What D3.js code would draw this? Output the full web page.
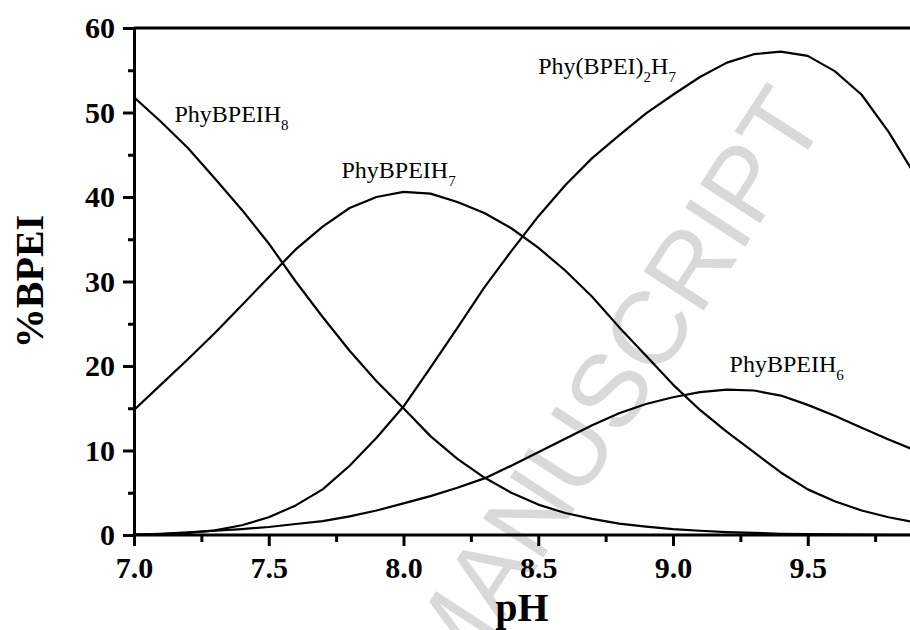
<!DOCTYPE html>
<html>
<head>
<meta charset="utf-8">
<script src="https://cdn.jsdelivr.net/npm/d3@7/dist/d3.min.js"></script>
<style>
	body{margin:0;background:#fff;}
	svg{display:block;}
	.axis path,.axis line{stroke:#000;stroke-width:3;}
	.axis text{font-family:"Liberation Serif","Times New Roman",serif;font-weight:bold;font-size:30px;fill:#000;}
	.curve{fill:none;stroke:#000;stroke-width:2.2;stroke-linejoin:round;}
	.species{font-family:"Liberation Serif","Times New Roman",serif;font-size:24px;fill:#000;}
	.title{font-family:"Liberation Serif","Times New Roman",serif;font-weight:bold;font-size:40px;fill:#000;}
</style>
</head>
<body>
<div id="chart"></div>
<script>
var pH=[7.0,7.1,7.2,7.3,7.4,7.5,7.6,7.7,7.8,7.9,8.0,8.1,8.2,8.3,8.4,8.5,8.6,8.7,8.8,8.9,9.0,9.1,9.2,9.3,9.4,9.5,9.6,9.7,9.8,9.9];
var phyBPEIH8=[51.8,48.9,45.8,42.2,38.5,34.5,30.0,25.8,21.8,18.2,15.0,11.7,9.0,6.8,5.0,3.6,2.6,1.9,1.35,1.0,0.7,0.5,0.35,0.25,0.15,0.1,0.07,0.05,0.03,0.02];
var phyBPEIH7=[14.8,17.8,20.8,23.9,27.2,30.5,33.8,36.5,38.7,40.0,40.6,40.4,39.4,38.1,36.3,34.0,31.3,28.2,24.6,21.2,17.8,14.8,12.2,9.8,7.4,5.4,4.0,2.9,2.1,1.5];
var phyBPEI2H7=[0.03,0.1,0.25,0.55,1.15,2.1,3.5,5.4,8.2,11.5,15.2,19.8,24.5,29.3,33.6,37.7,41.4,44.6,47.3,49.9,52.1,54.2,55.9,56.9,57.2,56.7,54.9,52.1,47.7,42.5];
var phyBPEIH6=[0.05,0.15,0.3,0.5,0.7,0.95,1.3,1.65,2.2,2.9,3.75,4.6,5.6,6.7,8.2,9.8,11.4,13.0,14.4,15.5,16.3,16.9,17.2,17.1,16.5,15.4,14.1,12.7,11.3,10.0];
var xTicks=[7.0,7.5,8.0,8.5,9.0,9.5];
var xMinor=[7.25,7.75,8.25,8.75,9.25,9.75];
var yTicks=[0,10,20,30,40,50,60];
var yMinor=[5,15,25,35,45,55];

var W=910, H=630;
var plotLeft=134, plotTop=28, plotBottom=535;

var svg=d3.select("#chart").append("svg").attr("width",W).attr("height",H);

var x=d3.scaleLinear().domain([7,10]).range([plotLeft,plotLeft+3*269.5]);
var y=d3.scaleLinear().domain([0,60]).range([plotBottom,plotTop]);

// watermark behind the curves
svg.append("text")
	.attr("transform","translate(828,119) rotate(-57)")
	.attr("text-anchor","end")
	.style("font-family","'Liberation Sans',Arial,sans-serif")
	.style("font-size","104px")
	.style("fill","#d9d9d9")
	.text("ACCEPTED MANUSCRIPT");

var series=[phyBPEIH8,phyBPEIH7,phyBPEI2H7,phyBPEIH6];
var line=d3.line()
	.x(function(d,i){return x(pH[i]);})
	.y(function(d){return y(d);});

svg.selectAll("path.curve").data(series).enter().append("path")
	.attr("class","curve")
	.attr("d",function(d){return line(d);});

// minor ticks
svg.append("g").attr("class","axis")
	.attr("transform","translate(0,"+plotBottom+")")
	.call(d3.axisBottom(x).tickValues(xMinor).tickSize(7).tickFormat("").tickSizeOuter(0))
	.select(".domain").remove();
svg.append("g").attr("class","axis")
	.attr("transform","translate("+plotLeft+",0)")
	.call(d3.axisLeft(y).tickValues(yMinor).tickSize(6).tickFormat("").tickSizeOuter(0))
	.select(".domain").remove();

var xAxis=svg.append("g").attr("class","axis")
	.attr("transform","translate(0,"+plotBottom+")")
	.call(d3.axisBottom(x).tickValues(xTicks).tickSize(11).tickPadding(11).tickSizeOuter(0).tickFormat(d3.format(".1f")));
xAxis.select(".domain").attr("d","M"+plotLeft+",0H"+W);

var yAxis=svg.append("g").attr("class","axis")
	.attr("transform","translate("+plotLeft+",0)")
	.call(d3.axisLeft(y).tickValues(yTicks).tickSize(11).tickPadding(8).tickSizeOuter(0));

svg.append("line")
	.attr("x1",plotLeft).attr("x2",W)
	.attr("y1",plotTop).attr("y2",plotTop)
	.attr("stroke","#000").attr("stroke-width",3);

// species labels
var labels=[
	{name:"PhyBPEIH",sub:"8",px:7.15,v:48.9},
	{name:"PhyBPEIH",sub:"7",px:7.77,v:42.3},
	{name:"Phy(BPEI)",sub:"2",name2:"H",sub2:"7",px:8.50,v:54.6},
	{name:"PhyBPEIH",sub:"6",px:9.21,v:19.3}
];
labels.forEach(function(l){
	var t=svg.append("text").attr("class","species")
		.attr("x",x(l.px)).attr("y",y(l.v));
	t.append("tspan").text(l.name);
	t.append("tspan").attr("dy",8).style("font-size","15px").text(l.sub);
	if(l.name2){
		t.append("tspan").attr("dy",-8).text(l.name2);
		t.append("tspan").attr("dy",8).style("font-size","15px").text(l.sub2);
	}
});

svg.append("text").attr("class","title")
	.attr("x",(plotLeft+W)/2).attr("y",621)
	.attr("text-anchor","middle")
	.text("pH");

svg.append("text").attr("class","title")
	.attr("transform","translate(43,"+((plotTop+plotBottom)/2)+") rotate(-90)")
	.attr("text-anchor","middle")
	.text("%BPEI");
</script>
</body>
</html>
